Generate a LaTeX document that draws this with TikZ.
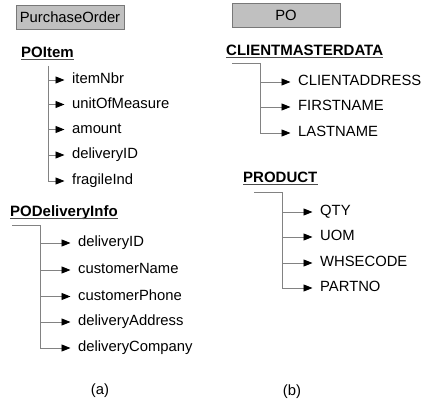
\documentclass[tikz,border=0pt]{standalone}
\usepackage{fontspec}
\setmainfont{Liberation Sans}
\usetikzlibrary{arrows.meta}
\definecolor{boxfill}{RGB}{192,192,192}
\definecolor{boxline}{RGB}{120,120,120}
\definecolor{treeline}{RGB}{130,130,130}
\begin{document}
\begin{tikzpicture}[x=1pt,y=-1pt,
  every node/.style={font=\fontsize{14.8}{17}\selectfont},
  titlebox/.style={draw=boxline, fill=boxfill, line width=0.8pt, minimum width=108pt, minimum height=24pt, inner sep=0pt},
  header/.style={anchor=base west, inner sep=0pt, font=\fontsize{15}{17}\selectfont\bfseries},
  item/.style={anchor=west, inner sep=0pt, text height=10.5pt, text depth=3pt},
  trunk/.style={draw=treeline, line width=0.9pt},
  branch/.style={trunk, -{Triangle[length=9pt,width=7pt,color=black]}, shorten >=7.5pt},
  uline/.style={draw=black!70, line width=1pt},
  caption/.style={anchor=center}]
\useasboundingbox (0,0) rectangle (423,406);

% title boxes
\node[titlebox] (po1) at (70,17) {PurchaseOrder};
\node[titlebox] (po2) at (286,15) {PO};

% ---------- (a) POItem ----------
\node[header] (h1) at (21,57.5) {POItem};
\draw[uline] ([yshift=-2pt]h1.base west) -- ([yshift=-2pt]h1.base east);
\coordinate (t1) at (48,66);
\node[item] (i1) at (72,80) {itemNbr};
\node[item] (i2) at (72,104.5) {unitOfMeasure};
\node[item] (i3) at (72,129.5) {amount};
\node[item] (i4) at (72,155) {deliveryID};
\node[item] (i5) at (72,181) {fragileInd};
\draw[branch] (t1) |- (i5.west);
\foreach \n in {i1,i2,i3,i4} \draw[branch] (\n.west -| t1) -- (\n.west);

% ---------- (a) PODeliveryInfo ----------
\node[header] (h2) at (10,217) {PODeliveryInfo};
\draw[uline] ([yshift=-2pt]h2.base west) -- ([yshift=-2pt]h2.base east);
\coordinate (s2) at (12,225.5);
\coordinate (t2) at (40,225.5);
\node[item] (d1) at (78,243) {deliveryID};
\node[item] (d2) at (78,270) {customerName};
\node[item] (d3) at (78,296.5) {customerPhone};
\node[item] (d4) at (78,322) {deliveryAddress};
\node[item] (d5) at (78,348) {deliveryCompany};
\draw[branch] (s2) -- (t2) |- (d5.west);
\foreach \n in {d1,d2,d3,d4} \draw[branch] (\n.west -| t2) -- (\n.west);

% ---------- (b) CLIENTMASTERDATA ----------
\node[header] (h3) at (226,56) {CLIENTMASTERDATA};
\draw[uline] ([yshift=-2pt]h3.base west) -- ([yshift=-2pt]h3.base east);
\coordinate (s3) at (232,63);
\coordinate (t3) at (260,63);
\node[item] (c1) at (298,82) {CLIENTADDRESS};
\node[item] (c2) at (298,107) {FIRSTNAME};
\node[item] (c3) at (298,133) {LASTNAME};
\draw[branch] (s3) -- (t3) |- (c3.west);
\foreach \n in {c1,c2} \draw[branch] (\n.west -| t3) -- (\n.west);

% ---------- (b) PRODUCT ----------
\node[header] (h4) at (243,183) {PRODUCT};
\draw[uline] ([yshift=-2pt]h4.base west) -- ([yshift=-2pt]h4.base east);
\coordinate (s4) at (254,192.5);
\coordinate (t4) at (282,192.5);
\node[item] (p1) at (320,212) {QTY};
\node[item] (p2) at (320,237) {UOM};
\node[item] (p3) at (320,263) {WHSECODE};
\node[item] (p4) at (320,288) {PARTNO};
\draw[branch] (s4) -- (t4) |- (p4.west);
\foreach \n in {p1,p2,p3} \draw[branch] (\n.west -| t4) -- (\n.west);

% captions
\node[caption] (ca) at (100,391) {(a)};
\node[caption] (cb) at (292,392) {(b)};
\end{tikzpicture}
\end{document}
